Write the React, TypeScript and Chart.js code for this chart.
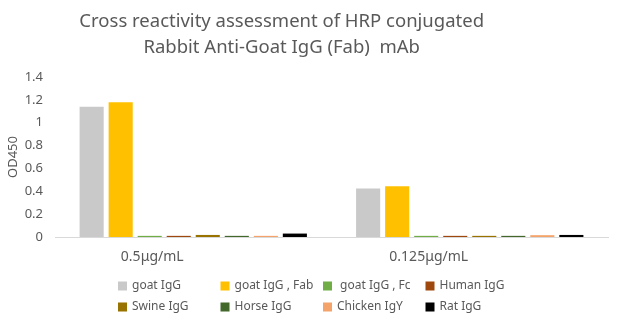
import React, { useEffect, useRef } from "react";
import { Chart, registerables } from "chart.js";

Chart.register(...registerables);

const categories = ["0.5μg/mL", "0.125μg/mL"];
const titleLines = ["Cross reactivity assessment of HRP conjugated", "Rabbit Anti-Goat IgG (Fab)  mAb"];
const yAxisTitle = "OD450";

const seriesNames = [
  "goat IgG",
  "goat IgG , Fab",
  " goat IgG , Fc",
  "Human IgG",
  "Swine IgG",
  "Horse IgG",
  "Chicken IgY",
  "Rat IgG",
];
const seriesColors = ["#C9C9C9", "#FFC000", "#70AD47", "#9E480E", "#997300", "#43682B", "#F4A46B", "#000000"];

const goatIgG = [1.14, 0.425];
const goatIgGFab = [1.18, 0.445];
const goatIgGFc = [0.01, 0.01];
const humanIgG = [0.01, 0.01];
const swineIgG = [0.018, 0.01];
const horseIgG = [0.01, 0.01];
const chickenIgY = [0.01, 0.016];
const ratIgG = [0.03, 0.018];

const seriesValues = [goatIgG, goatIgGFab, goatIgGFc, humanIgG, swineIgG, horseIgG, chickenIgY, ratIgG];

const TEXT = "#595959";
const FONT = "'Noto Sans', sans-serif";

const titlePlugin = {
  id: "customTitle",
  afterDraw(chart: any) {
    const ctx = chart.ctx;
    ctx.save();
    ctx.fillStyle = TEXT;
    ctx.font = `18.5px ${FONT}`;
    ctx.textAlign = "center";
    ctx.textBaseline = "middle";
    const cx = chart.width * 0.45;
    titleLines.forEach((line, i) => ctx.fillText(line, cx, 21.5 + i * 26));
    ctx.restore();
  },
};

const legendPlugin = {
  id: "customLegend",
  afterDraw(chart: any) {
    const ctx = chart.ctx;
    ctx.save();
    ctx.font = `12px ${FONT}`;
    ctx.textBaseline = "middle";
    ctx.textAlign = "left";
    chart.data.datasets.forEach((ds: any, i: number) => {
      const col = i % 4;
      const row = Math.floor(i / 4);
      const x = 118 + col * 102.5;
      const y = 286 + row * 21;
      ctx.fillStyle = ds.backgroundColor;
      ctx.fillRect(x, y - 4.5, 9, 9);
      ctx.fillStyle = TEXT;
      ctx.fillText(ds.label, x + 14, y);
    });
    ctx.restore();
  },
};

export default function App() {
  const ref = useRef<HTMLCanvasElement>(null);
  useEffect(() => {
    document.body.style.margin = "0";
    const chart = new Chart(ref.current!, {
      type: "bar",
      data: {
        labels: categories,
        datasets: seriesNames.map((name, i) => ({
          label: name,
          data: seriesValues[i],
          backgroundColor: seriesColors[i],
          borderWidth: 0,
          categoryPercentage: 0.84,
          barPercentage: 0.83,
        })),
      },
      options: {
        animation: false,
        responsive: true,
        maintainAspectRatio: false,
        layout: { padding: { top: 77, right: 18, left: 0, bottom: 0 } },
        plugins: {
          legend: { display: false },
          title: { display: false },
          tooltip: { enabled: false },
        },
        scales: {
          x: {
            grid: { display: false, drawTicks: false },
            border: { display: true, color: "#D9D9D9", width: 1 },
            ticks: { color: TEXT, font: { family: FONT, size: 14 }, padding: 12, labelOffset: -41 },
            afterFit(scale: any) {
              scale.height = 89;
            },
          },
          y: {
            min: 0,
            max: 1.4,
            grid: { display: false, drawTicks: false },
            border: { display: false },
            ticks: {
              stepSize: 0.2,
              color: TEXT,
              font: { family: FONT, size: 13 },
              padding: 12,
              callback: (v: any) => String(Math.round(Number(v) * 10) / 10),
            },
            title: {
              display: true,
              text: yAxisTitle,
              color: TEXT,
              font: { family: FONT, size: 13 },
              padding: { top: 5, bottom: 0 },
            },
            afterFit(scale: any) {
              scale.width = 55;
            },
          },
        },
      },
      plugins: [titlePlugin, legendPlugin],
    });
    return () => chart.destroy();
  }, []);
  return (
    <div style={{ width: 626, height: 326, position: "relative", background: "#fff" }}>
      <canvas ref={ref} />
    </div>
  );
}
